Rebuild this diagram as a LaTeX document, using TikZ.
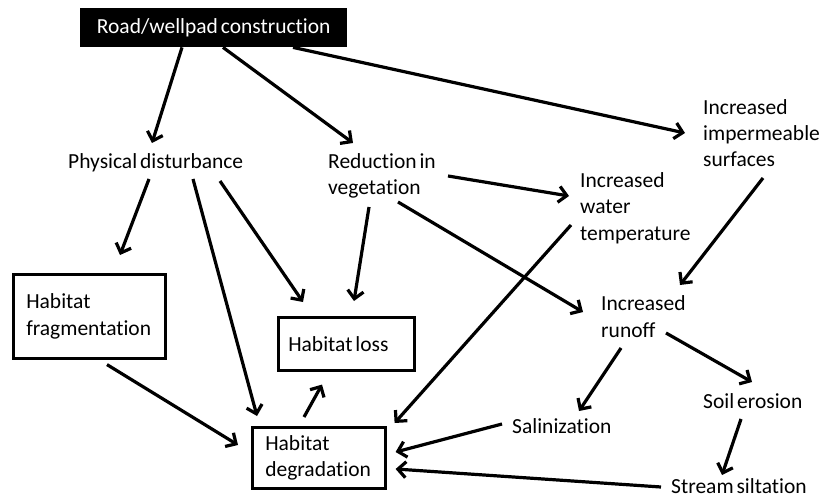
\documentclass[tikz,border=0pt]{standalone}
\usepackage{fontspec}
\setmainfont{Carlito}[Ligatures=NoCommon, WordSpace=0.6]
\usetikzlibrary{calc, arrows.meta}

\tikzset{
    effect/.style={inner sep=0pt, align=flush left, anchor=base west},
    habitat/.style={draw, line width=2.6pt, inner xsep=13pt, inner ysep=0pt,
                    align=flush left, anchor=north west},
    link/.style={line width=3.2pt, -{Straight Barb[length=8pt,width=16pt]}}
}

\begin{document}
\begin{tikzpicture}[x=1pt, y=-1pt, font=\fontsize{21.5}{26.2}\selectfont]
    \useasboundingbox (0,0) rectangle (824,497);

    % the cause
    \node[fill=black, text=white, inner sep=0pt, anchor=north west,
          minimum width=267pt, minimum height=39pt] (road) at (80,8)
          {Road/wellpad construction};

    % intermediate effects (placed on the baseline of their last line)
    \node[effect] (phys)   at (68,169)  {Physical disturbance};
    \node[effect] (veg)    at (328,195) {Reduction in\\vegetation};
    \node[effect] (imperm) at (703,167) {Increased\\impermeable\\surfaces};
    \node[effect] (water)  at (580,240) {Increased\\water\\temperature};
    \node[effect] (runoff) at (601,337) {Increased\\runoff};
    \node[effect] (soil)   at (703,408) {Soil erosion};
    \node[effect] (salin)  at (512,433) {Salinization};
    \node[effect] (stream) at (671,493) {Stream siltation};

    % habitat outcomes
    \node[habitat, text width=126pt, minimum height=84pt] (frag) at (12,273)
          {Habitat\\fragmentation};
    \node[habitat, inner xsep=10pt, text width=116pt, minimum height=53pt] (loss) at (277,316)
          {Habitat loss};
    \node[habitat, text width=107pt, minimum height=61pt] (degr) at (251,426)
          {Habitat\\degradation};

    % links
    \draw[link] ($(road.south west)+(102,0)$) -- ($(phys.base west)+(84,-26)$);
    \draw[link] ($(road.south west)+(143,0)$) -- ($(veg.base west)+(25,-52)$);
    \draw[link] ($(road.south west)+(213,0)$) -- ($(imperm.base west)+(-18,-34)$);

    \draw[link] ($(phys.base west)+(81,10)$)  -- ($(frag.north west)+(108,-18)$);
    \draw[link] ($(phys.base west)+(125,10)$) -- ($(degr.north west)+(6,-10)$);
    \draw[link] ($(phys.base west)+(152,12)$) -- ($(loss.north west)+(26,-14)$);

    \draw[link] ($(veg.base west)+(41,12)$)  -- ($(loss.north west)+(77,-15)$);
    \draw[link] ($(veg.base west)+(120,-19)$) -- ($(water.base west)+(-11,-44)$);
    \draw[link] ($(veg.base west)+(70,7)$)   -- ($(runoff.base west)+(-18,-25)$);

    \draw[link] ($(water.base west)+(-9,-15)$) -- ($(degr.north east)+(8,-3)$);
    \draw[link] ($(imperm.base west)+(60,11)$) -- ($(runoff.base west)+(79,-52)$);

    \draw[link] ($(frag.south west)+(95,5)$)  -- ($(degr.north west)+(-13,19)$);
    \draw[link] ($(degr.north west)+(53,-9)$) -- ($(loss.south west)+(45,13)$);

    \draw[link] ($(runoff.base west)+(20,11)$) -- ($(salin.base west)+(67,-22)$);
    \draw[link] ($(runoff.base west)+(65,-4)$) -- ($(soil.base west)+(49,-26)$);
    \draw[link] ($(salin.base west)+(-10,-9)$) -- ($(degr.north east)+(9,26)$);
    \draw[link] ($(soil.base west)+(38,11)$)   -- ($(stream.base west)+(51,-18)$);
    \draw[link] ($(stream.base west)+(-10,-6)$) -- ($(degr.north east)+(9,43)$);
\end{tikzpicture}
\end{document}
